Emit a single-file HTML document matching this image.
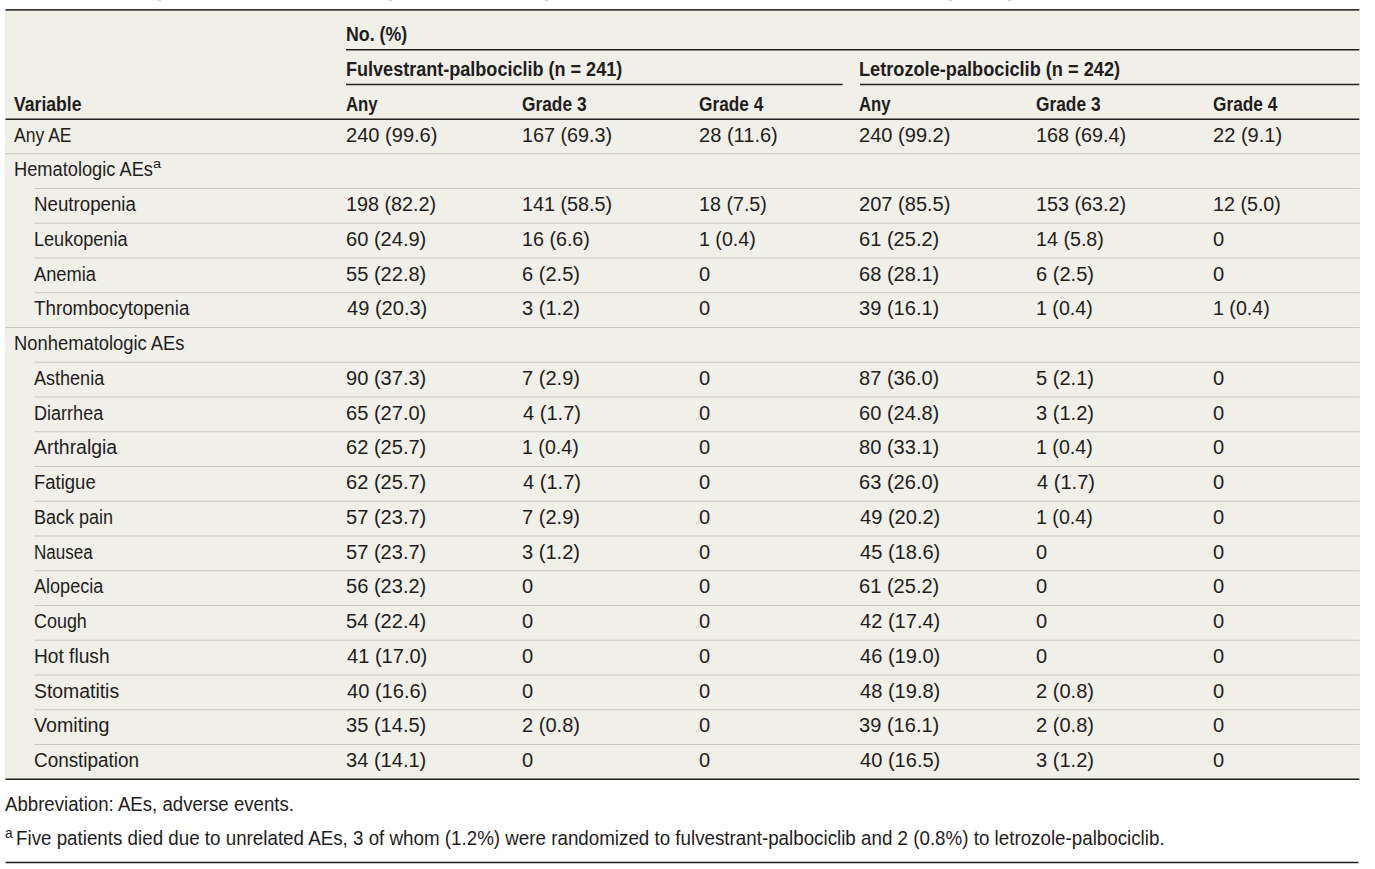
<!DOCTYPE html>
<html><head><meta charset="utf-8"><style>
html,body{margin:0;padding:0;background:#fff;}
body{width:1375px;height:869px;overflow:hidden;position:relative;font-family:"Liberation Sans",sans-serif;color:#1f1d1e;}
#bg{position:absolute;left:5px;top:9px;width:1354.5px;height:771px;background:#f0f0e8;}
svg{position:absolute;left:0;top:0;}
</style></head><body>
<div id="bg"></div>
<div style="position:absolute;left:157.5px;top:0;width:3px;height:1px;background:rgba(120,120,150,0.4)"></div><div style="position:absolute;left:389px;top:0;width:3px;height:1px;background:rgba(120,120,150,0.4)"></div><div style="position:absolute;left:545px;top:0;width:3px;height:1px;background:rgba(120,120,150,0.4)"></div><div style="position:absolute;left:948.5px;top:0;width:3px;height:1px;background:rgba(120,120,150,0.4)"></div><div style="position:absolute;left:1008px;top:0;width:3px;height:1px;background:rgba(120,120,150,0.4)"></div>
<svg width="1375" height="869" viewBox="0 0 1375 869">
<line x1="5.5" y1="9.9" x2="1359.3" y2="9.9" stroke="#3d3b3b" stroke-width="1.8"/>
<line x1="346.0" y1="49.8" x2="1359.3" y2="49.8" stroke="#231f20" stroke-width="1.4"/>
<line x1="346.0" y1="84.5" x2="842.7" y2="84.5" stroke="#231f20" stroke-width="1.4"/>
<line x1="860.0" y1="84.5" x2="1359.3" y2="84.5" stroke="#231f20" stroke-width="1.4"/>
<line x1="5.5" y1="119.3" x2="1359.3" y2="119.3" stroke="#231f20" stroke-width="1.45"/>
<line x1="5.0" y1="153.75" x2="1359.5" y2="153.75" stroke="#c9c7be" stroke-width="1.0"/>
<line x1="34.5" y1="188.5" x2="1359.5" y2="188.5" stroke="#c9c7be" stroke-width="1.0"/>
<line x1="34.5" y1="223.25" x2="1359.5" y2="223.25" stroke="#c9c7be" stroke-width="1.0"/>
<line x1="34.5" y1="258.0" x2="1359.5" y2="258.0" stroke="#c9c7be" stroke-width="1.0"/>
<line x1="34.5" y1="292.75" x2="1359.5" y2="292.75" stroke="#c9c7be" stroke-width="1.0"/>
<line x1="5.0" y1="327.5" x2="1359.5" y2="327.5" stroke="#c9c7be" stroke-width="1.0"/>
<line x1="34.5" y1="362.25" x2="1359.5" y2="362.25" stroke="#c9c7be" stroke-width="1.0"/>
<line x1="34.5" y1="397.0" x2="1359.5" y2="397.0" stroke="#c9c7be" stroke-width="1.0"/>
<line x1="34.5" y1="431.75" x2="1359.5" y2="431.75" stroke="#c9c7be" stroke-width="1.0"/>
<line x1="34.5" y1="466.5" x2="1359.5" y2="466.5" stroke="#c9c7be" stroke-width="1.0"/>
<line x1="34.5" y1="501.25" x2="1359.5" y2="501.25" stroke="#c9c7be" stroke-width="1.0"/>
<line x1="34.5" y1="536.0" x2="1359.5" y2="536.0" stroke="#c9c7be" stroke-width="1.0"/>
<line x1="34.5" y1="570.75" x2="1359.5" y2="570.75" stroke="#c9c7be" stroke-width="1.0"/>
<line x1="34.5" y1="605.5" x2="1359.5" y2="605.5" stroke="#c9c7be" stroke-width="1.0"/>
<line x1="34.5" y1="640.25" x2="1359.5" y2="640.25" stroke="#c9c7be" stroke-width="1.0"/>
<line x1="34.5" y1="675.0" x2="1359.5" y2="675.0" stroke="#c9c7be" stroke-width="1.0"/>
<line x1="34.5" y1="709.75" x2="1359.5" y2="709.75" stroke="#c9c7be" stroke-width="1.0"/>
<line x1="34.5" y1="744.5" x2="1359.5" y2="744.5" stroke="#c9c7be" stroke-width="1.0"/>
<line x1="5.5" y1="779.3" x2="1359.3" y2="779.3" stroke="#231f20" stroke-width="1.45"/>
<line x1="5.5" y1="862.6" x2="1358.5" y2="862.6" stroke="#231f20" stroke-width="1.5"/>
</svg>
<div style="position:absolute;left:346.09px;top:18.70px;font-size:19.5px;font-weight:700;line-height:30px;white-space:nowrap;transform-origin:0 0;transform:scaleX(0.9123)">No. (%)</div>
<div style="position:absolute;left:345.67px;top:53.70px;font-size:19.5px;font-weight:700;line-height:30px;white-space:nowrap;transform-origin:0 0;transform:scaleX(0.9253)">Fulvestrant-palbociclib (n = 241)</div>
<div style="position:absolute;left:859.27px;top:53.70px;font-size:19.5px;font-weight:700;line-height:30px;white-space:nowrap;transform-origin:0 0;transform:scaleX(0.9320)">Letrozole-palbociclib (n = 242)</div>
<div style="position:absolute;left:13.70px;top:88.70px;font-size:19.5px;font-weight:700;line-height:30px;white-space:nowrap;transform-origin:0 0;transform:scaleX(0.9027)">Variable</div>
<div style="position:absolute;left:346.04px;top:88.70px;font-size:19.5px;font-weight:700;line-height:30px;white-space:nowrap;transform-origin:0 0;transform:scaleX(0.8583)">Any</div>
<div style="position:absolute;left:521.91px;top:88.70px;font-size:19.5px;font-weight:700;line-height:30px;white-space:nowrap;transform-origin:0 0;transform:scaleX(0.8887)">Grade 3</div>
<div style="position:absolute;left:698.82px;top:88.70px;font-size:19.5px;font-weight:700;line-height:30px;white-space:nowrap;transform-origin:0 0;transform:scaleX(0.8847)">Grade 4</div>
<div style="position:absolute;left:859.24px;top:88.70px;font-size:19.5px;font-weight:700;line-height:30px;white-space:nowrap;transform-origin:0 0;transform:scaleX(0.8583)">Any</div>
<div style="position:absolute;left:1035.71px;top:88.70px;font-size:19.5px;font-weight:700;line-height:30px;white-space:nowrap;transform-origin:0 0;transform:scaleX(0.8887)">Grade 3</div>
<div style="position:absolute;left:1212.82px;top:88.70px;font-size:19.5px;font-weight:700;line-height:30px;white-space:nowrap;transform-origin:0 0;transform:scaleX(0.8847)">Grade 4</div>
<div style="position:absolute;left:14.00px;top:119.60px;font-size:19.5px;font-weight:400;line-height:30px;white-space:nowrap;transform-origin:0 0;transform:scaleX(0.9000)">Any AE</div>
<div style="position:absolute;left:345.60px;top:119.60px;font-size:20.0px;font-weight:400;line-height:30px;white-space:nowrap;transform-origin:0 0;transform:scaleX(1.0030)">240 (99.6)</div>
<div style="position:absolute;left:522.02px;top:119.60px;font-size:20.0px;font-weight:400;line-height:30px;white-space:nowrap;transform-origin:0 0;transform:scaleX(0.9894)">167 (69.3)</div>
<div style="position:absolute;left:698.70px;top:119.60px;font-size:20.0px;font-weight:400;line-height:30px;white-space:nowrap;transform-origin:0 0;transform:scaleX(1.0030)">28 (11.6)</div>
<div style="position:absolute;left:858.80px;top:119.60px;font-size:20.0px;font-weight:400;line-height:30px;white-space:nowrap;transform-origin:0 0;transform:scaleX(1.0030)">240 (99.2)</div>
<div style="position:absolute;left:1035.82px;top:119.60px;font-size:20.0px;font-weight:400;line-height:30px;white-space:nowrap;transform-origin:0 0;transform:scaleX(0.9894)">168 (69.4)</div>
<div style="position:absolute;left:1212.70px;top:119.60px;font-size:20.0px;font-weight:400;line-height:30px;white-space:nowrap;transform-origin:0 0;transform:scaleX(1.0030)">22 (9.1)</div>
<div style="position:absolute;left:14.00px;top:154.35px;font-size:19.5px;font-weight:400;line-height:30px;white-space:nowrap;transform-origin:0 0;transform:scaleX(0.9358)">Hematologic AEs</div>
<div style="position:absolute;left:152.52px;top:149.35px;font-size:13.5px;font-weight:400;line-height:30px;white-space:nowrap;transform-origin:0 0;transform:scaleX(1.0833)">a</div>
<div style="position:absolute;left:34.00px;top:189.10px;font-size:19.5px;font-weight:400;line-height:30px;white-space:nowrap;transform-origin:0 0;transform:scaleX(0.9594)">Neutropenia</div>
<div style="position:absolute;left:345.82px;top:189.10px;font-size:20.0px;font-weight:400;line-height:30px;white-space:nowrap;transform-origin:0 0;transform:scaleX(0.9894)">198 (82.2)</div>
<div style="position:absolute;left:522.02px;top:189.10px;font-size:20.0px;font-weight:400;line-height:30px;white-space:nowrap;transform-origin:0 0;transform:scaleX(0.9894)">141 (58.5)</div>
<div style="position:absolute;left:698.93px;top:189.10px;font-size:20.0px;font-weight:400;line-height:30px;white-space:nowrap;transform-origin:0 0;transform:scaleX(0.9848)">18 (7.5)</div>
<div style="position:absolute;left:858.80px;top:189.10px;font-size:20.0px;font-weight:400;line-height:30px;white-space:nowrap;transform-origin:0 0;transform:scaleX(1.0030)">207 (85.5)</div>
<div style="position:absolute;left:1035.82px;top:189.10px;font-size:20.0px;font-weight:400;line-height:30px;white-space:nowrap;transform-origin:0 0;transform:scaleX(0.9894)">153 (63.2)</div>
<div style="position:absolute;left:1212.93px;top:189.10px;font-size:20.0px;font-weight:400;line-height:30px;white-space:nowrap;transform-origin:0 0;transform:scaleX(0.9848)">12 (5.0)</div>
<div style="position:absolute;left:34.00px;top:223.85px;font-size:19.5px;font-weight:400;line-height:30px;white-space:nowrap;transform-origin:0 0;transform:scaleX(0.9267)">Leukopenia</div>
<div style="position:absolute;left:345.60px;top:223.85px;font-size:20.0px;font-weight:400;line-height:30px;white-space:nowrap;transform-origin:0 0;transform:scaleX(1.0030)">60 (24.9)</div>
<div style="position:absolute;left:522.03px;top:223.85px;font-size:20.0px;font-weight:400;line-height:30px;white-space:nowrap;transform-origin:0 0;transform:scaleX(0.9848)">16 (6.6)</div>
<div style="position:absolute;left:698.94px;top:223.85px;font-size:20.0px;font-weight:400;line-height:30px;white-space:nowrap;transform-origin:0 0;transform:scaleX(0.9812)">1 (0.4)</div>
<div style="position:absolute;left:858.80px;top:223.85px;font-size:20.0px;font-weight:400;line-height:30px;white-space:nowrap;transform-origin:0 0;transform:scaleX(1.0030)">61 (25.2)</div>
<div style="position:absolute;left:1035.83px;top:223.85px;font-size:20.0px;font-weight:400;line-height:30px;white-space:nowrap;transform-origin:0 0;transform:scaleX(0.9848)">14 (5.8)</div>
<div style="position:absolute;left:1212.70px;top:223.85px;font-size:20.0px;font-weight:400;line-height:30px;white-space:nowrap;transform-origin:0 0;transform:scaleX(1.0030)">0</div>
<div style="position:absolute;left:34.00px;top:258.60px;font-size:19.5px;font-weight:400;line-height:30px;white-space:nowrap;transform-origin:0 0;transform:scaleX(0.9379)">Anemia</div>
<div style="position:absolute;left:345.60px;top:258.60px;font-size:20.0px;font-weight:400;line-height:30px;white-space:nowrap;transform-origin:0 0;transform:scaleX(1.0030)">55 (22.8)</div>
<div style="position:absolute;left:521.80px;top:258.60px;font-size:20.0px;font-weight:400;line-height:30px;white-space:nowrap;transform-origin:0 0;transform:scaleX(1.0030)">6 (2.5)</div>
<div style="position:absolute;left:698.70px;top:258.60px;font-size:20.0px;font-weight:400;line-height:30px;white-space:nowrap;transform-origin:0 0;transform:scaleX(1.0030)">0</div>
<div style="position:absolute;left:858.80px;top:258.60px;font-size:20.0px;font-weight:400;line-height:30px;white-space:nowrap;transform-origin:0 0;transform:scaleX(1.0030)">68 (28.1)</div>
<div style="position:absolute;left:1035.60px;top:258.60px;font-size:20.0px;font-weight:400;line-height:30px;white-space:nowrap;transform-origin:0 0;transform:scaleX(1.0030)">6 (2.5)</div>
<div style="position:absolute;left:1212.70px;top:258.60px;font-size:20.0px;font-weight:400;line-height:30px;white-space:nowrap;transform-origin:0 0;transform:scaleX(1.0030)">0</div>
<div style="position:absolute;left:34.00px;top:293.35px;font-size:19.5px;font-weight:400;line-height:30px;white-space:nowrap;transform-origin:0 0;transform:scaleX(0.9617)">Thrombocytopenia</div>
<div style="position:absolute;left:346.60px;top:293.35px;font-size:20.0px;font-weight:400;line-height:30px;white-space:nowrap;transform-origin:0 0;transform:scaleX(1.0030)">49 (20.3)</div>
<div style="position:absolute;left:521.80px;top:293.35px;font-size:20.0px;font-weight:400;line-height:30px;white-space:nowrap;transform-origin:0 0;transform:scaleX(1.0030)">3 (1.2)</div>
<div style="position:absolute;left:698.70px;top:293.35px;font-size:20.0px;font-weight:400;line-height:30px;white-space:nowrap;transform-origin:0 0;transform:scaleX(1.0030)">0</div>
<div style="position:absolute;left:858.80px;top:293.35px;font-size:20.0px;font-weight:400;line-height:30px;white-space:nowrap;transform-origin:0 0;transform:scaleX(1.0030)">39 (16.1)</div>
<div style="position:absolute;left:1035.84px;top:293.35px;font-size:20.0px;font-weight:400;line-height:30px;white-space:nowrap;transform-origin:0 0;transform:scaleX(0.9812)">1 (0.4)</div>
<div style="position:absolute;left:1212.94px;top:293.35px;font-size:20.0px;font-weight:400;line-height:30px;white-space:nowrap;transform-origin:0 0;transform:scaleX(0.9812)">1 (0.4)</div>
<div style="position:absolute;left:14.00px;top:328.10px;font-size:19.5px;font-weight:400;line-height:30px;white-space:nowrap;transform-origin:0 0;transform:scaleX(0.9422)">Nonhematologic AEs</div>
<div style="position:absolute;left:34.00px;top:362.85px;font-size:19.5px;font-weight:400;line-height:30px;white-space:nowrap;transform-origin:0 0;transform:scaleX(0.9250)">Asthenia</div>
<div style="position:absolute;left:345.60px;top:362.85px;font-size:20.0px;font-weight:400;line-height:30px;white-space:nowrap;transform-origin:0 0;transform:scaleX(1.0030)">90 (37.3)</div>
<div style="position:absolute;left:521.80px;top:362.85px;font-size:20.0px;font-weight:400;line-height:30px;white-space:nowrap;transform-origin:0 0;transform:scaleX(1.0030)">7 (2.9)</div>
<div style="position:absolute;left:698.70px;top:362.85px;font-size:20.0px;font-weight:400;line-height:30px;white-space:nowrap;transform-origin:0 0;transform:scaleX(1.0030)">0</div>
<div style="position:absolute;left:858.80px;top:362.85px;font-size:20.0px;font-weight:400;line-height:30px;white-space:nowrap;transform-origin:0 0;transform:scaleX(1.0030)">87 (36.0)</div>
<div style="position:absolute;left:1035.60px;top:362.85px;font-size:20.0px;font-weight:400;line-height:30px;white-space:nowrap;transform-origin:0 0;transform:scaleX(1.0030)">5 (2.1)</div>
<div style="position:absolute;left:1212.70px;top:362.85px;font-size:20.0px;font-weight:400;line-height:30px;white-space:nowrap;transform-origin:0 0;transform:scaleX(1.0030)">0</div>
<div style="position:absolute;left:34.00px;top:397.60px;font-size:19.5px;font-weight:400;line-height:30px;white-space:nowrap;transform-origin:0 0;transform:scaleX(0.9253)">Diarrhea</div>
<div style="position:absolute;left:345.60px;top:397.60px;font-size:20.0px;font-weight:400;line-height:30px;white-space:nowrap;transform-origin:0 0;transform:scaleX(1.0030)">65 (27.0)</div>
<div style="position:absolute;left:522.80px;top:397.60px;font-size:20.0px;font-weight:400;line-height:30px;white-space:nowrap;transform-origin:0 0;transform:scaleX(1.0030)">4 (1.7)</div>
<div style="position:absolute;left:698.70px;top:397.60px;font-size:20.0px;font-weight:400;line-height:30px;white-space:nowrap;transform-origin:0 0;transform:scaleX(1.0030)">0</div>
<div style="position:absolute;left:858.80px;top:397.60px;font-size:20.0px;font-weight:400;line-height:30px;white-space:nowrap;transform-origin:0 0;transform:scaleX(1.0030)">60 (24.8)</div>
<div style="position:absolute;left:1035.60px;top:397.60px;font-size:20.0px;font-weight:400;line-height:30px;white-space:nowrap;transform-origin:0 0;transform:scaleX(1.0030)">3 (1.2)</div>
<div style="position:absolute;left:1212.70px;top:397.60px;font-size:20.0px;font-weight:400;line-height:30px;white-space:nowrap;transform-origin:0 0;transform:scaleX(1.0030)">0</div>
<div style="position:absolute;left:34.00px;top:432.35px;font-size:19.5px;font-weight:400;line-height:30px;white-space:nowrap;transform-origin:0 0;transform:scaleX(0.9964)">Arthralgia</div>
<div style="position:absolute;left:345.60px;top:432.35px;font-size:20.0px;font-weight:400;line-height:30px;white-space:nowrap;transform-origin:0 0;transform:scaleX(1.0030)">62 (25.7)</div>
<div style="position:absolute;left:522.04px;top:432.35px;font-size:20.0px;font-weight:400;line-height:30px;white-space:nowrap;transform-origin:0 0;transform:scaleX(0.9812)">1 (0.4)</div>
<div style="position:absolute;left:698.70px;top:432.35px;font-size:20.0px;font-weight:400;line-height:30px;white-space:nowrap;transform-origin:0 0;transform:scaleX(1.0030)">0</div>
<div style="position:absolute;left:858.80px;top:432.35px;font-size:20.0px;font-weight:400;line-height:30px;white-space:nowrap;transform-origin:0 0;transform:scaleX(1.0030)">80 (33.1)</div>
<div style="position:absolute;left:1035.84px;top:432.35px;font-size:20.0px;font-weight:400;line-height:30px;white-space:nowrap;transform-origin:0 0;transform:scaleX(0.9812)">1 (0.4)</div>
<div style="position:absolute;left:1212.70px;top:432.35px;font-size:20.0px;font-weight:400;line-height:30px;white-space:nowrap;transform-origin:0 0;transform:scaleX(1.0030)">0</div>
<div style="position:absolute;left:34.00px;top:467.10px;font-size:19.5px;font-weight:400;line-height:30px;white-space:nowrap;transform-origin:0 0;transform:scaleX(0.9484)">Fatigue</div>
<div style="position:absolute;left:345.60px;top:467.10px;font-size:20.0px;font-weight:400;line-height:30px;white-space:nowrap;transform-origin:0 0;transform:scaleX(1.0030)">62 (25.7)</div>
<div style="position:absolute;left:522.80px;top:467.10px;font-size:20.0px;font-weight:400;line-height:30px;white-space:nowrap;transform-origin:0 0;transform:scaleX(1.0030)">4 (1.7)</div>
<div style="position:absolute;left:698.70px;top:467.10px;font-size:20.0px;font-weight:400;line-height:30px;white-space:nowrap;transform-origin:0 0;transform:scaleX(1.0030)">0</div>
<div style="position:absolute;left:858.80px;top:467.10px;font-size:20.0px;font-weight:400;line-height:30px;white-space:nowrap;transform-origin:0 0;transform:scaleX(1.0030)">63 (26.0)</div>
<div style="position:absolute;left:1036.60px;top:467.10px;font-size:20.0px;font-weight:400;line-height:30px;white-space:nowrap;transform-origin:0 0;transform:scaleX(1.0030)">4 (1.7)</div>
<div style="position:absolute;left:1212.70px;top:467.10px;font-size:20.0px;font-weight:400;line-height:30px;white-space:nowrap;transform-origin:0 0;transform:scaleX(1.0030)">0</div>
<div style="position:absolute;left:34.00px;top:501.85px;font-size:19.5px;font-weight:400;line-height:30px;white-space:nowrap;transform-origin:0 0;transform:scaleX(0.9238)">Back pain</div>
<div style="position:absolute;left:345.60px;top:501.85px;font-size:20.0px;font-weight:400;line-height:30px;white-space:nowrap;transform-origin:0 0;transform:scaleX(1.0030)">57 (23.7)</div>
<div style="position:absolute;left:521.80px;top:501.85px;font-size:20.0px;font-weight:400;line-height:30px;white-space:nowrap;transform-origin:0 0;transform:scaleX(1.0030)">7 (2.9)</div>
<div style="position:absolute;left:698.70px;top:501.85px;font-size:20.0px;font-weight:400;line-height:30px;white-space:nowrap;transform-origin:0 0;transform:scaleX(1.0030)">0</div>
<div style="position:absolute;left:859.80px;top:501.85px;font-size:20.0px;font-weight:400;line-height:30px;white-space:nowrap;transform-origin:0 0;transform:scaleX(1.0030)">49 (20.2)</div>
<div style="position:absolute;left:1035.84px;top:501.85px;font-size:20.0px;font-weight:400;line-height:30px;white-space:nowrap;transform-origin:0 0;transform:scaleX(0.9812)">1 (0.4)</div>
<div style="position:absolute;left:1212.70px;top:501.85px;font-size:20.0px;font-weight:400;line-height:30px;white-space:nowrap;transform-origin:0 0;transform:scaleX(1.0030)">0</div>
<div style="position:absolute;left:34.00px;top:536.60px;font-size:19.5px;font-weight:400;line-height:30px;white-space:nowrap;transform-origin:0 0;transform:scaleX(0.8731)">Nausea</div>
<div style="position:absolute;left:345.60px;top:536.60px;font-size:20.0px;font-weight:400;line-height:30px;white-space:nowrap;transform-origin:0 0;transform:scaleX(1.0030)">57 (23.7)</div>
<div style="position:absolute;left:521.80px;top:536.60px;font-size:20.0px;font-weight:400;line-height:30px;white-space:nowrap;transform-origin:0 0;transform:scaleX(1.0030)">3 (1.2)</div>
<div style="position:absolute;left:698.70px;top:536.60px;font-size:20.0px;font-weight:400;line-height:30px;white-space:nowrap;transform-origin:0 0;transform:scaleX(1.0030)">0</div>
<div style="position:absolute;left:859.80px;top:536.60px;font-size:20.0px;font-weight:400;line-height:30px;white-space:nowrap;transform-origin:0 0;transform:scaleX(1.0030)">45 (18.6)</div>
<div style="position:absolute;left:1035.60px;top:536.60px;font-size:20.0px;font-weight:400;line-height:30px;white-space:nowrap;transform-origin:0 0;transform:scaleX(1.0030)">0</div>
<div style="position:absolute;left:1212.70px;top:536.60px;font-size:20.0px;font-weight:400;line-height:30px;white-space:nowrap;transform-origin:0 0;transform:scaleX(1.0030)">0</div>
<div style="position:absolute;left:34.00px;top:571.35px;font-size:19.5px;font-weight:400;line-height:30px;white-space:nowrap;transform-origin:0 0;transform:scaleX(0.9267)">Alopecia</div>
<div style="position:absolute;left:345.60px;top:571.35px;font-size:20.0px;font-weight:400;line-height:30px;white-space:nowrap;transform-origin:0 0;transform:scaleX(1.0030)">56 (23.2)</div>
<div style="position:absolute;left:521.80px;top:571.35px;font-size:20.0px;font-weight:400;line-height:30px;white-space:nowrap;transform-origin:0 0;transform:scaleX(1.0030)">0</div>
<div style="position:absolute;left:698.70px;top:571.35px;font-size:20.0px;font-weight:400;line-height:30px;white-space:nowrap;transform-origin:0 0;transform:scaleX(1.0030)">0</div>
<div style="position:absolute;left:858.80px;top:571.35px;font-size:20.0px;font-weight:400;line-height:30px;white-space:nowrap;transform-origin:0 0;transform:scaleX(1.0030)">61 (25.2)</div>
<div style="position:absolute;left:1035.60px;top:571.35px;font-size:20.0px;font-weight:400;line-height:30px;white-space:nowrap;transform-origin:0 0;transform:scaleX(1.0030)">0</div>
<div style="position:absolute;left:1212.70px;top:571.35px;font-size:20.0px;font-weight:400;line-height:30px;white-space:nowrap;transform-origin:0 0;transform:scaleX(1.0030)">0</div>
<div style="position:absolute;left:34.00px;top:606.10px;font-size:19.5px;font-weight:400;line-height:30px;white-space:nowrap;transform-origin:0 0;transform:scaleX(0.9196)">Cough</div>
<div style="position:absolute;left:345.60px;top:606.10px;font-size:20.0px;font-weight:400;line-height:30px;white-space:nowrap;transform-origin:0 0;transform:scaleX(1.0030)">54 (22.4)</div>
<div style="position:absolute;left:521.80px;top:606.10px;font-size:20.0px;font-weight:400;line-height:30px;white-space:nowrap;transform-origin:0 0;transform:scaleX(1.0030)">0</div>
<div style="position:absolute;left:698.70px;top:606.10px;font-size:20.0px;font-weight:400;line-height:30px;white-space:nowrap;transform-origin:0 0;transform:scaleX(1.0030)">0</div>
<div style="position:absolute;left:859.80px;top:606.10px;font-size:20.0px;font-weight:400;line-height:30px;white-space:nowrap;transform-origin:0 0;transform:scaleX(1.0030)">42 (17.4)</div>
<div style="position:absolute;left:1035.60px;top:606.10px;font-size:20.0px;font-weight:400;line-height:30px;white-space:nowrap;transform-origin:0 0;transform:scaleX(1.0030)">0</div>
<div style="position:absolute;left:1212.70px;top:606.10px;font-size:20.0px;font-weight:400;line-height:30px;white-space:nowrap;transform-origin:0 0;transform:scaleX(1.0030)">0</div>
<div style="position:absolute;left:34.00px;top:640.85px;font-size:19.5px;font-weight:400;line-height:30px;white-space:nowrap;transform-origin:0 0;transform:scaleX(0.9816)">Hot flush</div>
<div style="position:absolute;left:346.60px;top:640.85px;font-size:20.0px;font-weight:400;line-height:30px;white-space:nowrap;transform-origin:0 0;transform:scaleX(1.0030)">41 (17.0)</div>
<div style="position:absolute;left:521.80px;top:640.85px;font-size:20.0px;font-weight:400;line-height:30px;white-space:nowrap;transform-origin:0 0;transform:scaleX(1.0030)">0</div>
<div style="position:absolute;left:698.70px;top:640.85px;font-size:20.0px;font-weight:400;line-height:30px;white-space:nowrap;transform-origin:0 0;transform:scaleX(1.0030)">0</div>
<div style="position:absolute;left:859.80px;top:640.85px;font-size:20.0px;font-weight:400;line-height:30px;white-space:nowrap;transform-origin:0 0;transform:scaleX(1.0030)">46 (19.0)</div>
<div style="position:absolute;left:1035.60px;top:640.85px;font-size:20.0px;font-weight:400;line-height:30px;white-space:nowrap;transform-origin:0 0;transform:scaleX(1.0030)">0</div>
<div style="position:absolute;left:1212.70px;top:640.85px;font-size:20.0px;font-weight:400;line-height:30px;white-space:nowrap;transform-origin:0 0;transform:scaleX(1.0030)">0</div>
<div style="position:absolute;left:34.00px;top:675.60px;font-size:19.5px;font-weight:400;line-height:30px;white-space:nowrap;transform-origin:0 0;transform:scaleX(0.9941)">Stomatitis</div>
<div style="position:absolute;left:346.60px;top:675.60px;font-size:20.0px;font-weight:400;line-height:30px;white-space:nowrap;transform-origin:0 0;transform:scaleX(1.0030)">40 (16.6)</div>
<div style="position:absolute;left:521.80px;top:675.60px;font-size:20.0px;font-weight:400;line-height:30px;white-space:nowrap;transform-origin:0 0;transform:scaleX(1.0030)">0</div>
<div style="position:absolute;left:698.70px;top:675.60px;font-size:20.0px;font-weight:400;line-height:30px;white-space:nowrap;transform-origin:0 0;transform:scaleX(1.0030)">0</div>
<div style="position:absolute;left:859.80px;top:675.60px;font-size:20.0px;font-weight:400;line-height:30px;white-space:nowrap;transform-origin:0 0;transform:scaleX(1.0030)">48 (19.8)</div>
<div style="position:absolute;left:1035.60px;top:675.60px;font-size:20.0px;font-weight:400;line-height:30px;white-space:nowrap;transform-origin:0 0;transform:scaleX(1.0030)">2 (0.8)</div>
<div style="position:absolute;left:1212.70px;top:675.60px;font-size:20.0px;font-weight:400;line-height:30px;white-space:nowrap;transform-origin:0 0;transform:scaleX(1.0030)">0</div>
<div style="position:absolute;left:34.00px;top:710.35px;font-size:19.5px;font-weight:400;line-height:30px;white-space:nowrap;transform-origin:0 0;transform:scaleX(1.0081)">Vomiting</div>
<div style="position:absolute;left:345.60px;top:710.35px;font-size:20.0px;font-weight:400;line-height:30px;white-space:nowrap;transform-origin:0 0;transform:scaleX(1.0030)">35 (14.5)</div>
<div style="position:absolute;left:521.80px;top:710.35px;font-size:20.0px;font-weight:400;line-height:30px;white-space:nowrap;transform-origin:0 0;transform:scaleX(1.0030)">2 (0.8)</div>
<div style="position:absolute;left:698.70px;top:710.35px;font-size:20.0px;font-weight:400;line-height:30px;white-space:nowrap;transform-origin:0 0;transform:scaleX(1.0030)">0</div>
<div style="position:absolute;left:858.80px;top:710.35px;font-size:20.0px;font-weight:400;line-height:30px;white-space:nowrap;transform-origin:0 0;transform:scaleX(1.0030)">39 (16.1)</div>
<div style="position:absolute;left:1035.60px;top:710.35px;font-size:20.0px;font-weight:400;line-height:30px;white-space:nowrap;transform-origin:0 0;transform:scaleX(1.0030)">2 (0.8)</div>
<div style="position:absolute;left:1212.70px;top:710.35px;font-size:20.0px;font-weight:400;line-height:30px;white-space:nowrap;transform-origin:0 0;transform:scaleX(1.0030)">0</div>
<div style="position:absolute;left:34.00px;top:745.10px;font-size:19.5px;font-weight:400;line-height:30px;white-space:nowrap;transform-origin:0 0;transform:scaleX(0.9692)">Constipation</div>
<div style="position:absolute;left:345.60px;top:745.10px;font-size:20.0px;font-weight:400;line-height:30px;white-space:nowrap;transform-origin:0 0;transform:scaleX(1.0030)">34 (14.1)</div>
<div style="position:absolute;left:521.80px;top:745.10px;font-size:20.0px;font-weight:400;line-height:30px;white-space:nowrap;transform-origin:0 0;transform:scaleX(1.0030)">0</div>
<div style="position:absolute;left:698.70px;top:745.10px;font-size:20.0px;font-weight:400;line-height:30px;white-space:nowrap;transform-origin:0 0;transform:scaleX(1.0030)">0</div>
<div style="position:absolute;left:859.80px;top:745.10px;font-size:20.0px;font-weight:400;line-height:30px;white-space:nowrap;transform-origin:0 0;transform:scaleX(1.0030)">40 (16.5)</div>
<div style="position:absolute;left:1035.60px;top:745.10px;font-size:20.0px;font-weight:400;line-height:30px;white-space:nowrap;transform-origin:0 0;transform:scaleX(1.0030)">3 (1.2)</div>
<div style="position:absolute;left:1212.70px;top:745.10px;font-size:20.0px;font-weight:400;line-height:30px;white-space:nowrap;transform-origin:0 0;transform:scaleX(1.0030)">0</div>
<div style="position:absolute;left:5.00px;top:789.60px;font-size:19.3px;font-weight:400;line-height:30px;white-space:nowrap;transform-origin:0 0;transform:scaleX(0.9663)">Abbreviation: AEs, adverse events.</div>
<div style="position:absolute;left:5.01px;top:817.90px;font-size:14px;font-weight:400;line-height:30px;white-space:nowrap;transform-origin:0 0;transform:scaleX(0.9857)">a</div>
<div style="position:absolute;left:15.65px;top:823.90px;font-size:19.3px;font-weight:400;line-height:30px;white-space:nowrap;transform-origin:0 0;transform:scaleX(0.9734)">Five patients died due to unrelated AEs, 3 of whom (1.2%) were randomized to fulvestrant-palbociclib and 2 (0.8%) to letrozole-palbociclib.</div>
</body></html>
